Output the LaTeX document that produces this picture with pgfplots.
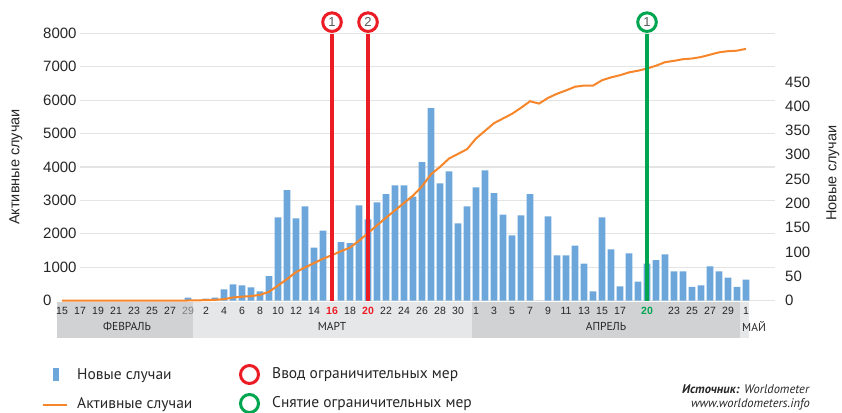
\documentclass[border=0pt]{standalone}
\usepackage{pgfplots}
\usepackage{pgfplotstable}
\pgfplotsset{compat=1.18}
\usepackage{fontspec}
\setmainfont{Liberation Sans}
\newfontfamily\legfont{PT Sans}

\definecolor{barblue}{HTML}{6CA6DA}
\definecolor{lineorange}{HTML}{F7862A}
\definecolor{mred}{HTML}{EC1C24}
\definecolor{mgreen}{HTML}{00A54F}
\definecolor{gridgray}{HTML}{E4E4E4}
\definecolor{banddark}{HTML}{D1D2D4}
\definecolor{bandlight}{HTML}{E6E7E8}
\definecolor{txt}{HTML}{262626}

% day 0 = 15 Feb, day 76 = 1 May
\pgfplotstableread{
day new
0 0
1 0
2 0
3 0
4 0
5 0
6 0
7 0
8 0
9 0
10 0
11 0
12 0
13 0
14 6
15 1.5
16 4
17 6
18 23
19 33
20 31
21 27
22 19
23 50
24 171
25 227
26 169
27 194
28 109
29 144
30 0
31 120
32 118
33 196
34 167
35 202
36 219
37 237
38 237
39 214
40 285
41 396
42 241
43 266
44 159
45 194
46 233
47 268
48 221
49 177
50 134
51 175
52 219
53 0
54 173
55 93
56 93
57 113
58 76
59 19
60 171
61 105
62 29
63 97
64 39
65 76
66 83
67 95
68 60
69 60
70 28
71 31
72 70
73 60
74 47
75 28
76 43
}\newcasestbl

\pgfplotstableread{
day act
0 0
1 0
2 0
3 0
4 0
5 0
6 0
7 0
8 0
9 0
10 0
11 0
12 0
13 0
14 0
15 5
16 10
17 20
18 40
19 90
20 115
21 130
22 170
23 260
24 450
25 640
26 850
27 990
28 1120
29 1250
30 1360
31 1475
32 1585
33 1790
34 2020
35 2250
36 2480
37 2700
38 2920
39 3140
40 3420
41 3780
42 4000
43 4250
44 4390
45 4530
46 4850
47 5080
48 5310
49 5450
50 5590
51 5770
52 5965
53 5895
54 6065
55 6190
56 6290
57 6400
58 6435
59 6435
60 6595
61 6680
62 6745
63 6830
64 6880
65 6945
66 7030
67 7135
68 7175
69 7225
70 7245
71 7290
72 7360
73 7430
74 7465
75 7480
76 7535
}\activetbl

\pgfplotsset{
  base/.style={
    at={(57pt,-300.5pt)}, anchor=south west,
    width=718pt, height=267.2pt, scale only axis,
    xmin=-0.556, xmax=79.22, ymin=0,
    axis line style={draw=none}, major tick length=0pt,
    clip=false,
    /pgf/number format/assume math mode=true,
    /pgf/number format/set thousands separator={},
    yticklabel style={font=\fontsize{15}{17}\selectfont, text=txt, inner sep=0pt, anchor=west},
  }
}

\begin{document}
\begin{tikzpicture}
\useasboundingbox (0pt,0pt) rectangle (842pt,-412pt);

% grid lines (left axis: every 1000)
\foreach \k in {0,...,8}
  \draw[gridgray, line width=1.2pt] (80pt,{(-300.5+33.4*\k)*1pt}) -- (775pt,{(-300.5+33.4*\k)*1pt});

% date band
\fill[banddark] (57pt,-302pt) rectangle (192.5pt,-338pt);
\fill[bandlight] (192.5pt,-302pt) rectangle (471.5pt,-338pt);
\fill[banddark] (471.5pt,-302pt) rectangle (740pt,-338pt);
\fill[bandlight] (740pt,-302pt) rectangle (749pt,-338pt);
\begin{scope}[font=\legfont\fontsize{11.5}{13}\selectfont, text=txt]
\node at (127pt,-326pt) {ФЕВРАЛЬ};
\node at (332pt,-326pt) {МАРТ};
\node at (606pt,-326pt) {АПРЕЛЬ};
\node[anchor=west, inner sep=0pt] at (742pt,-326pt) {МАЙ};
\end{scope}

% new cases (right axis)
\begin{axis}[base,
  ymax=550,
  ytick={0,50,...,450},
  yticklabel pos=right,
  yticklabel style={xshift=10pt},
  xtick={0,2,4,6,8,10,12,14,16,18,20,22,24,26,28,30,32,34,36,38,40,42,44,46,48,50,52,54,56,58,60,62,65,68,70,72,74,76},
  xticklabels={15,17,19,21,23,25,27,{\color{gray}29},2,4,6,8,10,12,14,{\bfseries\color{mred}16},18,{\bfseries\color{mred}20},22,24,26,28,30,1,3,5,7,9,11,13,15,17,{\bfseries\color{mgreen}20},23,25,27,29,1},
  xticklabel style={font=\fontsize{10.5}{12}\selectfont, text=txt, anchor=base, inner sep=0pt, yshift=-13.5pt},
]
\addplot[ybar, bar width=6.7pt, fill=barblue, draw=none] table[x=day, y=new] {\newcasestbl};
\end{axis}

% active cases (left axis)
\begin{axis}[base,
  ymax=8000,
  ytick={0,1000,...,8000},
  yticklabel style={xshift=-14pt},
  xtick=\empty,
]
\addplot[lineorange, line width=2pt, mark=none] table[x=day, y=act] {\activetbl};
\draw[mred, line width=4pt] (axis cs:30,0) -- (axis cs:30,7990);
\draw[mred, line width=4pt] (axis cs:34,0) -- (axis cs:34,7990);
\draw[mgreen, line width=4pt] (axis cs:65,0) -- (axis cs:65,7990);
\node[circle, draw=mred, line width=3pt, fill=white, minimum size=18.6pt, inner sep=0pt, text=black!65, font=\fontsize{13}{15}\selectfont] at (axis cs:30,8334) {1};
\node[circle, draw=mred, line width=3pt, fill=white, minimum size=18.6pt, inner sep=0pt, text=black!65, font=\fontsize{13}{15}\selectfont] at (axis cs:34,8334) {2};
\node[circle, draw=mgreen, line width=3pt, fill=white, minimum size=18.6pt, inner sep=0pt, text=black!65, font=\fontsize{13}{15}\selectfont] at (axis cs:65,8334) {1};
\end{axis}

% axis titles
\node[rotate=90, text=txt, font=\fontsize{14.5}{16}\selectfont] at (16pt,-167pt) {Активные случаи};
\node[rotate=90, text=txt, font=\fontsize{14.5}{16}\selectfont] at (833pt,-173pt) {Новые случаи};

% legend
\fill[barblue] (53pt,-368pt) rectangle (59pt,-381pt);
\draw[lineorange, line width=2pt] (43pt,-405pt) -- (67pt,-405pt);
\draw[mred, line width=3pt] (249.5pt,-374.5pt) circle (9pt);
\draw[mgreen, line width=3pt] (249.5pt,-403.5pt) circle (9pt);
\begin{scope}[font=\legfont\fontsize{15.5}{17}\selectfont, text=txt]
\node[anchor=west, inner sep=0pt] at (77pt,-376pt) {Новые случаи};
\node[anchor=west, inner sep=0pt] at (77pt,-405pt) {Активные случаи};
\node[anchor=west, inner sep=0pt] at (272pt,-375pt) {Ввод ограничительных мер};
\node[anchor=west, inner sep=0pt] at (272pt,-404pt) {Снятие ограничительных мер};
\end{scope}
\begin{scope}[font=\legfont\fontsize{12.5}{14}\selectfont, text=txt]
\node[anchor=east, inner sep=0pt] at (810pt,-389pt) {\textbf{\textit{Источник:}} \textit{Worldometer}};
\node[anchor=east, inner sep=0pt] at (810pt,-404.5pt) {\textit{www.worldometers.info}};
\end{scope}
\end{tikzpicture}
\end{document}
